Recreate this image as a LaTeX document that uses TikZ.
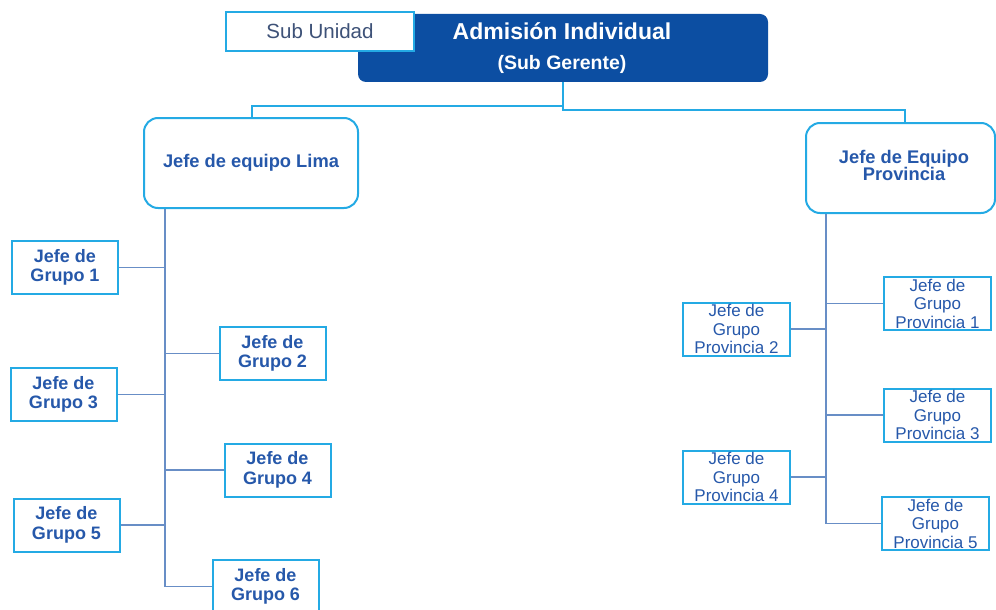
\documentclass[tikz,border=0pt]{standalone}
\usepackage{fontspec}
\setmainfont{Liberation Sans}
\definecolor{darkbox}{RGB}{12,78,162}
\definecolor{lblue}{RGB}{36,170,228}
\definecolor{tblue}{RGB}{38,88,170}
\definecolor{trunkc}{RGB}{104,142,198}
\definecolor{subtext}{RGB}{62,82,120}
\tikzset{
  grpbox/.style={draw=lblue, line width=2pt, fill=white, minimum width=106pt, minimum height=53pt,
    inner sep=0pt, align=center, text=tblue, font=\fontsize{18}{19.5}\selectfont\bfseries},
  provbox/.style={draw=lblue, line width=2pt, fill=white, minimum width=107pt, minimum height=53pt,
    inner sep=0pt, align=center, text=tblue, font=\fontsize{17}{18.5}\selectfont},
  teambox/.style={draw=lblue, line width=2pt, fill=white, rounded corners=14pt, inner sep=0pt,
    align=center, text=tblue, font=\fontsize{18.3}{18}\selectfont\bfseries},
  topconn/.style={draw=lblue, line width=2pt},
  trunk/.style={draw=trunkc, line width=2.6pt},
  branch/.style={draw=trunkc, line width=1.9pt},
}
\begin{document}
\begin{tikzpicture}[x=1pt,y=-1pt]
\useasboundingbox (0,0) rectangle (996,610);
\clip (0,0) rectangle (996,610);
% top
\node[fill=darkbox, rounded corners=8pt, minimum width=410pt, minimum height=68pt, inner sep=0pt] (top) at (563,48) {};
\node[text=white, font=\fontsize{23}{25}\selectfont\bfseries] (topa) at (562,31) {Admisión Individual};
\node[text=white, font=\fontsize{19.5}{21}\selectfont\bfseries] (topb) at (562,64) {(Sub Gerente)};
\node[draw=lblue, line width=1.4pt, fill=white, minimum width=188pt, minimum height=39pt, inner sep=0pt,
  text=subtext, font=\fontsize{20.5}{22}\selectfont] (sub) at (320,31.5) {Sub Unidad};
% team boxes
\node[teambox, minimum width=214pt, minimum height=90pt] (lima) at (251,163) {Jefe de equipo Lima};
\node[teambox, minimum width=189pt, minimum height=90pt] (prov) at (900.5,168) {\raisebox{2pt}{\begin{tabular}{@{}c@{}}\hspace*{7pt}Jefe de Equipo\\[-2pt]\hspace*{7pt}Provincia\end{tabular}}};
% top connectors
\coordinate (jl) at (563,106);
\coordinate (jr) at (563,110);
\draw[topconn] (top.south) -- (jr) -| ([xshift=4pt]prov.north);
\draw[topconn] (jl) -| ([xshift=1pt]lima.north);
% group boxes Lima
\node[grpbox] (g1) at (65,267.5) {Jefe de\\Grupo 1};
\node[grpbox] (g2) at (272.5,353.5) {Jefe de\\Grupo 2};
\node[grpbox] (g3) at (63.5,394.5) {Jefe de\\Grupo 3};
\node[grpbox] (g4) at (277.5,470) {Jefe de\\Grupo 4};
\node[grpbox] (g5) at (66.5,525) {Jefe de\\Grupo 5};
\node[grpbox] (g6) at (265.5,586.5) {Jefe de\\Grupo 6};
\coordinate (lt) at ([xshift=-86pt]lima.south);
\draw[trunk] (lt) -- (lt |- g6.west);
\draw[branch] (g1.east) -- (g1.east -| lt);
\draw[branch] (g2.west) -- (g2.west -| lt);
\draw[branch] (g3.east) -- (g3.east -| lt);
\draw[branch] (g4.west) -- (g4.west -| lt);
\draw[branch] (g5.east) -- (g5.east -| lt);
\draw[branch] (g6.west) -- (g6.west -| lt);
% group boxes Provincia
\node[provbox] (p1) at (937.5,303.5) {Jefe de\\Grupo\\Provincia 1};
\node[provbox] (p2) at (736.5,329) {Jefe de\\Grupo\\Provincia 2};
\node[provbox] (p3) at (937.5,415) {Jefe de\\Grupo\\Provincia 3};
\node[provbox] (p4) at (736.5,477) {Jefe de\\Grupo\\Provincia 4};
\node[provbox] (p5) at (935.5,523.5) {Jefe de\\Grupo\\Provincia 5};
\coordinate (rt) at ([xshift=-74.5pt]prov.south);
\draw[trunk] (rt) -- (rt |- p5.west);
\draw[branch] (p1.west) -- (p1.west -| rt);
\draw[branch] (p2.east) -- (p2.east -| rt);
\draw[branch] (p3.west) -- (p3.west -| rt);
\draw[branch] (p4.east) -- (p4.east -| rt);
\draw[branch] (p5.west) -- (p5.west -| rt);
\end{tikzpicture}
\end{document}
